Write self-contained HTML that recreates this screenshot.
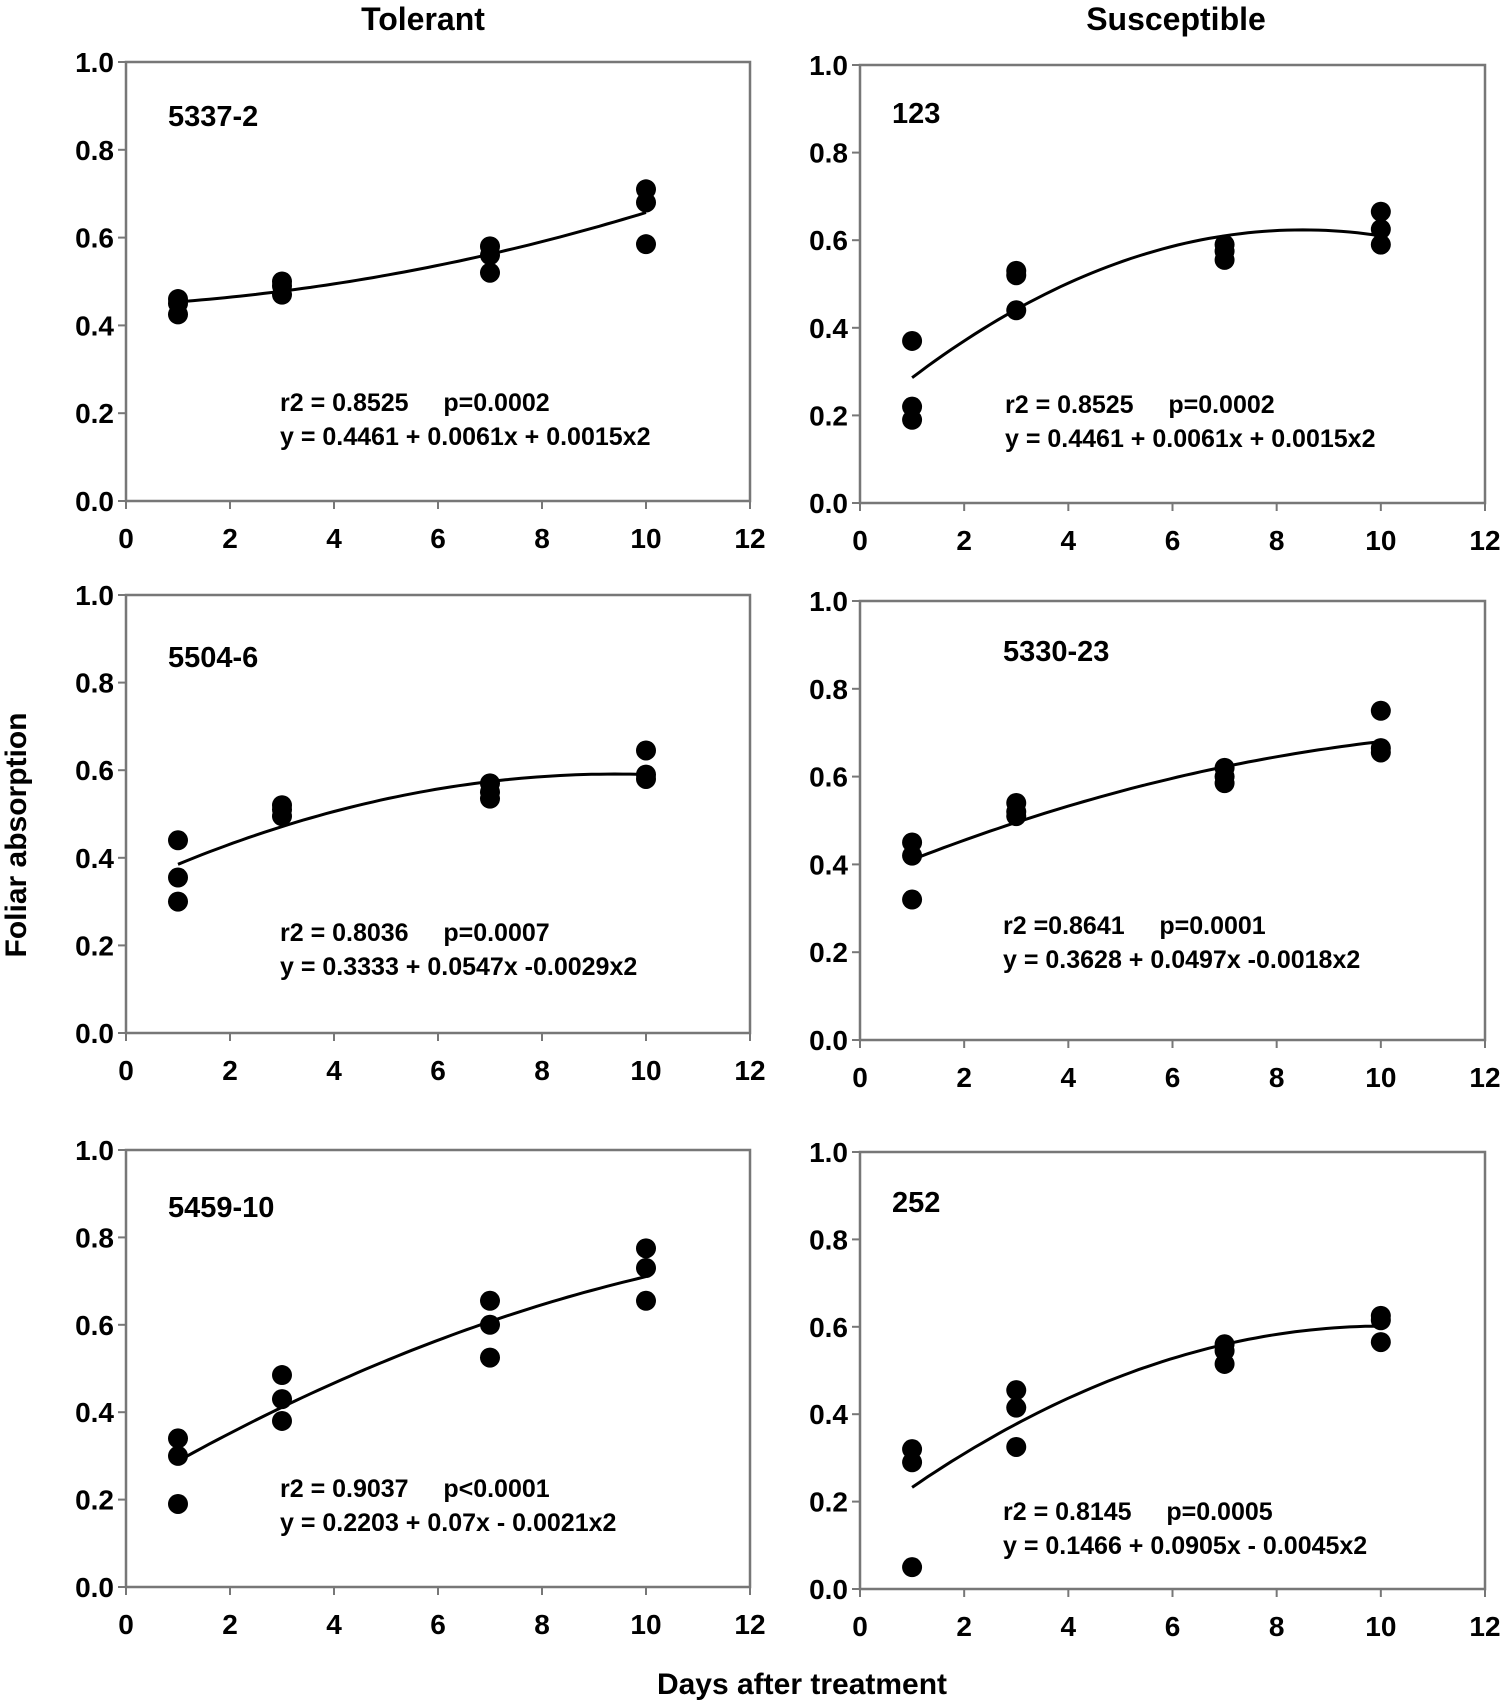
<!DOCTYPE html>
<html><head><meta charset="utf-8"><style>
html,body{margin:0;padding:0;background:#fff;}
svg{display:block;font-family:"Liberation Sans",Arial,sans-serif;font-weight:bold;}
.pre{white-space:pre;}
</style></head><body>
<svg id="fig" width="1507" height="1704" viewBox="0 0 1507 1704" xmlns="http://www.w3.org/2000/svg">
<text x="423" y="30" font-size="32" text-anchor="middle">Tolerant</text>
<text x="1176" y="30" font-size="32" text-anchor="middle">Susceptible</text>
<text x="0" y="0" font-size="30" text-anchor="middle" transform="translate(26,835) rotate(-90)">Foliar absorption</text>
<text x="802" y="1694" font-size="30" text-anchor="middle">Days after treatment</text>
</svg>
<script>
const panelNames = ["5337-2","123","5504-6","5330-23","5459-10","252"];
const xDays = [1,1,1,3,3,3,7,7,7,10,10,10];
const yP0 = [0.46,0.45,0.425,0.50,0.49,0.47,0.58,0.56,0.52,0.71,0.68,0.585];
const yP1 = [0.37,0.22,0.19,0.53,0.52,0.44,0.59,0.575,0.555,0.665,0.625,0.59];
const yP2 = [0.44,0.355,0.30,0.52,0.51,0.495,0.57,0.55,0.535,0.645,0.59,0.58];
const yP3 = [0.45,0.42,0.32,0.54,0.52,0.51,0.62,0.60,0.585,0.75,0.665,0.655];
const yP4 = [0.34,0.30,0.19,0.485,0.43,0.38,0.655,0.60,0.525,0.775,0.73,0.655];
const yP5 = [0.32,0.29,0.05,0.455,0.415,0.325,0.56,0.545,0.515,0.625,0.615,0.565];
const coefA = [0.4461,0.19,0.3333,0.3628,0.2203,0.1466];
const coefB = [0.0061,0.102,0.0547,0.0497,0.07,0.0905];
const coefC = [0.0015,-0.006,-0.0029,-0.0018,-0.0021,-0.0045];
const statLines = ["r2 = 0.8525     p=0.0002","r2 = 0.8525     p=0.0002","r2 = 0.8036     p=0.0007","r2 =0.8641     p=0.0001","r2 = 0.9037     p<0.0001","r2 = 0.8145     p=0.0005"];
const eqLines = ["y = 0.4461 + 0.0061x + 0.0015x2","y = 0.4461 + 0.0061x + 0.0015x2","y = 0.3333 + 0.0547x -0.0029x2","y = 0.3628 + 0.0497x -0.0018x2","y = 0.2203 + 0.07x - 0.0021x2","y = 0.1466 + 0.0905x - 0.0045x2"];
const xTicks = [0,2,4,6,8,10,12];
const yTicks = [0.0,0.2,0.4,0.6,0.8,1.0];
const ySeries = [yP0,yP1,yP2,yP3,yP4,yP5];

const boxes = [
 {l:126,r:750,t:62,b:501, lx:168,ly:126, ex:280,ey:411},
 {l:860,r:1485,t:65,b:503, lx:892,ly:123, ex:1005,ey:413},
 {l:126,r:750,t:595,b:1033, lx:168,ly:667, ex:280,ey:941},
 {l:860,r:1485,t:601,b:1040, lx:1003,ly:661, ex:1003,ey:934},
 {l:126,r:750,t:1150,b:1587, lx:168,ly:1217, ex:280,ey:1497},
 {l:860,r:1485,t:1152,b:1589, lx:892,ly:1212, ex:1003,ey:1520}
];
const NS="http://www.w3.org/2000/svg";
const svg=document.getElementById('fig');
function mk(tag,attrs,parent){const e=document.createElementNS(NS,tag);for(const k in attrs)e.setAttribute(k,attrs[k]);(parent||svg).appendChild(e);return e;}
boxes.forEach((bx,i)=>{
  const g=mk('g',{});
  
  
  const sx=v=>bx.l+(v/12)*(bx.r-bx.l);
  const sy=v=>bx.b-v*(bx.b-bx.t);
  const frame=mk('rect',{x:bx.l,y:bx.t,width:bx.r-bx.l,height:bx.b-bx.t,fill:'none',stroke:'#777','stroke-width':2.5},g);
  
  
  xTicks.forEach(t=>{
    mk('line',{x1:sx(t),x2:sx(t),y1:bx.b,y2:bx.b+8,stroke:'#777','stroke-width':2},g);
    const tx=mk('text',{x:sx(t),y:bx.b+47,'font-size':28,'text-anchor':'middle'},g);
    tx.textContent=t;
    
    
  });
  yTicks.forEach(t=>{
    mk('line',{x1:bx.l-8,x2:bx.l,y1:sy(t),y2:sy(t),stroke:'#777','stroke-width':2},g);
    const tx=mk('text',{x:bx.l-12,y:sy(t)+10,'font-size':28,'text-anchor':'end'},g);
    tx.textContent=t.toFixed(1);
    
    
  });
  let d='';
  for(let k=0;k<=60;k++){const x=1+9*k/60;const y=coefA[i]+coefB[i]*x+coefC[i]*x*x;d+=(k?'L':'M')+sx(x).toFixed(1)+' '+sy(y).toFixed(1);}
  const fit=mk('path',{d:d,fill:'none',stroke:'#000','stroke-width':3},g);
  
  
  ySeries[i].forEach((v,j)=>{
    const c=mk('circle',{cx:sx(xDays[j]),cy:sy(v),r:10,fill:'#000'},g);
    
    
  });
  const lbl=mk('text',{x:bx.lx,y:bx.ly,'font-size':29},g);
  lbl.textContent=panelNames[i];
  
  
  const s1=mk('text',{x:bx.ex,y:bx.ey,'font-size':25,'class':'pre'},g);
  s1.textContent=statLines[i];
  
  
  const s2=mk('text',{x:bx.ex,y:bx.ey+34,'font-size':25,'class':'pre'},g);
  s2.textContent=eqLines[i];
  
  
});
</script>
</body></html>
